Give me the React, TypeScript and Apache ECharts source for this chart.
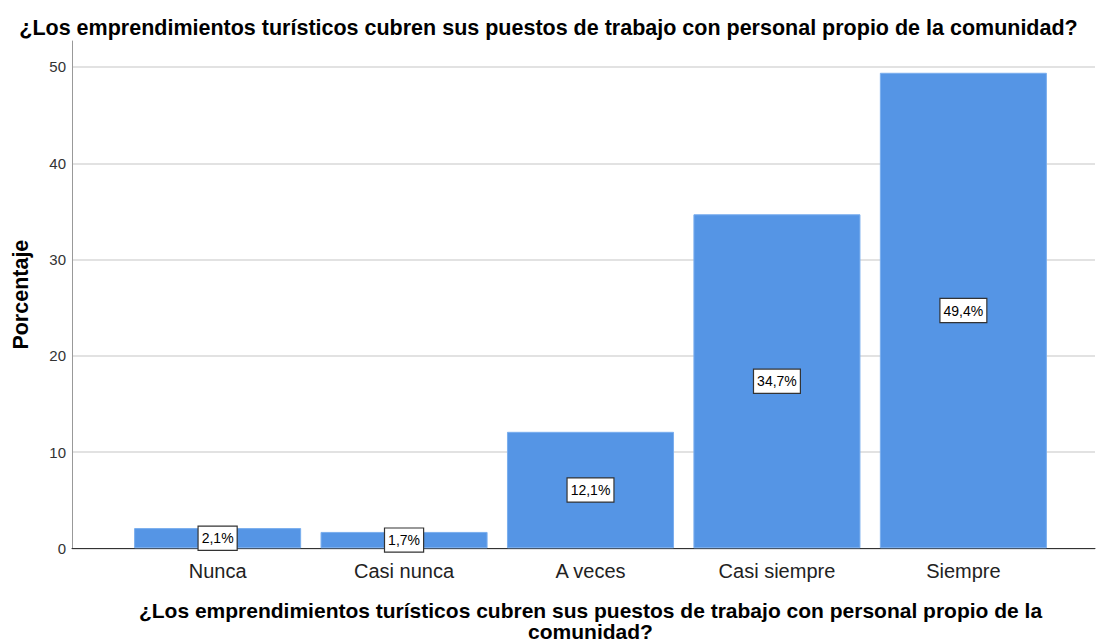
import React, { useEffect, useRef } from "react";
import * as echarts from "echarts";

const titleText =
  "¿Los emprendimientos turísticos cubren sus puestos de trabajo con personal propio de la comunidad?";
const xAxisName =
  "¿Los emprendimientos turísticos cubren sus puestos de trabajo con personal propio de la\ncomunidad?";
const yAxisName = "Porcentaje";
const categories = ["Nunca", "Casi nunca", "A veces", "Casi siempre", "Siempre"];
const percentages = [2.1, 1.7, 12.1, 34.7, 49.4];
const yMax = 52.7;

const FONT = "'Liberation Sans', Arial, sans-serif";

export default function App() {
  const ref = useRef<HTMLDivElement>(null);
  useEffect(() => {
    if (!ref.current) return;
    const chart = echarts.init(ref.current, null, { renderer: "svg" });
    chart.setOption({
      animation: false,
      backgroundColor: "#ffffff",
      textStyle: { fontFamily: FONT },
      title: {
        text: titleText,
        left: "center",
        top: 12,
        textStyle: { fontFamily: FONT, fontSize: 21.5, fontWeight: "bold", color: "#000" },
      },
      grid: [
        { left: 72, right: 2, top: 41, bottom: 93.7, outerBoundsMode: "none" },
        { left: 124.4, right: 40.4, top: 41, bottom: 93.7, outerBoundsMode: "none" },
      ],
      xAxis: [
        {
          gridIndex: 0,
          type: "value",
          min: 0,
          max: 1,
          axisLine: { show: true, lineStyle: { color: "#333", width: 1 } },
          axisTick: { show: false },
          axisLabel: { show: false },
          splitLine: { show: false },
        },
        {
          gridIndex: 1,
          type: "category",
          data: categories,
          axisLine: { show: false },
          axisTick: { show: false },
          axisLabel: { fontFamily: FONT, fontSize: 20, color: "#222", margin: 13 },
          name: xAxisName,
          nameLocation: "middle",
          nameGap: 52,
          nameTextStyle: {
            fontFamily: FONT,
            fontSize: 21,
            fontWeight: "bold",
            color: "#000",
            lineHeight: 21,
          },
        },
      ],
      yAxis: [
        {
          gridIndex: 0,
          type: "value",
          min: 0,
          max: yMax,
          interval: 10,
          axisLine: { show: true, lineStyle: { color: "#999", width: 1 } },
          axisTick: { show: false },
          axisLabel: {
            fontFamily: FONT,
            fontSize: 15,
            color: "#333",
            margin: 6,
            showMaxLabel: false,
          },
          splitLine: {
            show: true,
            showMaxLine: false,
            lineStyle: { color: "#d9d9d9", width: 1.5 },
          },
          name: yAxisName,
          nameLocation: "middle",
          nameGap: 40,
          nameTextStyle: { fontFamily: FONT, fontSize: 21.5, fontWeight: "bold", color: "#000" },
        },
        {
          gridIndex: 1,
          type: "value",
          min: 0,
          max: yMax,
          show: false,
          splitLine: { show: false },
        },
      ],
      series: [
        {
          type: "bar",
          xAxisIndex: 1,
          yAxisIndex: 1,
          data: percentages,
          barWidth: "89.6%",
          itemStyle: { color: "#5595e5", borderColor: "#7aaeee", borderWidth: 1 },
          label: {
            show: true,
            position: "inside",
            formatter: (p: any) => String(p.value).replace(".", ",") + "%",
            fontFamily: FONT,
            fontSize: 14,
            color: "#000",
            backgroundColor: "#fff",
            borderColor: "#333",
            borderWidth: 1.2,
            padding: [5, 3, 4, 3],
          },
        },
      ],
    });
    return () => chart.dispose();
  }, []);
  return (
    <div
      ref={ref}
      style={{ position: "fixed", left: 0, top: 0, width: 1097, height: 642 }}
    />
  );
}
